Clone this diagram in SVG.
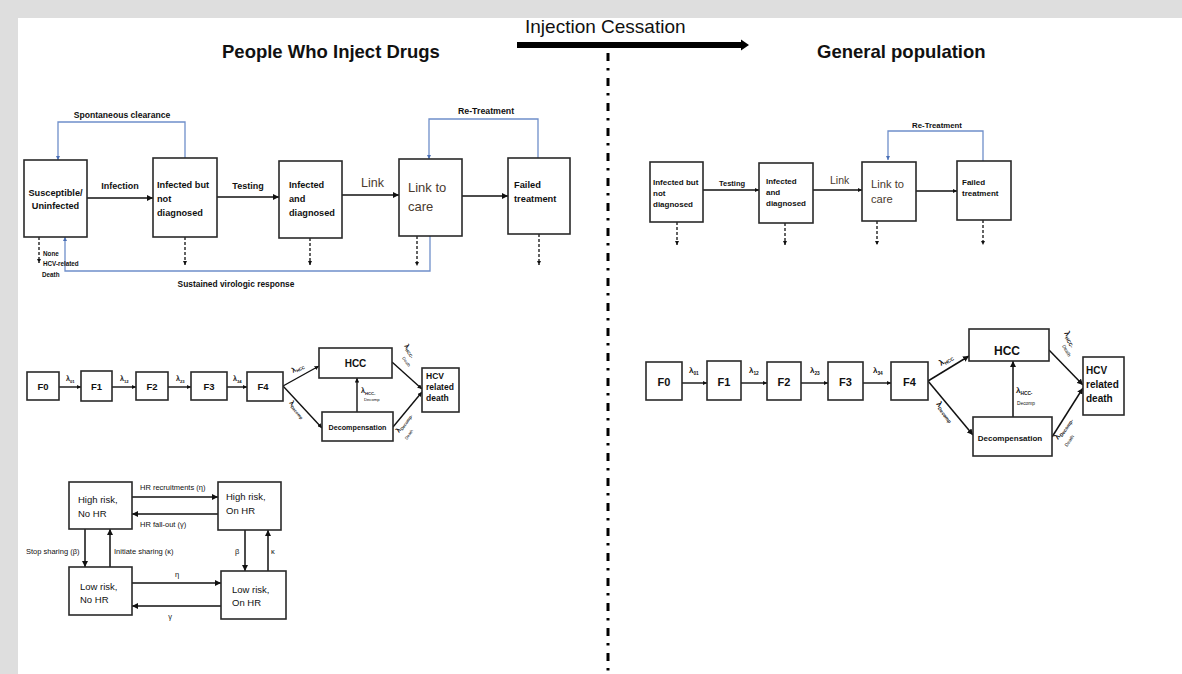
<svg xmlns="http://www.w3.org/2000/svg" width="1182" height="674" viewBox="0 0 1182 674">
<defs>
<marker id="ah" viewBox="0 0 10 10" refX="10" refY="5" markerWidth="6" markerHeight="6" orient="auto" markerUnits="userSpaceOnUse"><path d="M0,0 L10,5 L0,10 z" fill="#111"/></marker>
<marker id="ahs" viewBox="0 0 10 10" refX="10" refY="5" markerWidth="4.5" markerHeight="4.5" orient="auto" markerUnits="userSpaceOnUse"><path d="M0,0 L10,5 L0,10 z" fill="#111"/></marker>
<marker id="ahb" viewBox="0 0 10 10" refX="10" refY="5" markerWidth="4" markerHeight="4" orient="auto" markerUnits="userSpaceOnUse"><path d="M0,0 L10,5 L0,10 z" fill="#4a6fb5"/></marker>
<style>
text{font-family:"Liberation Sans",Arial,sans-serif;fill:#111}
.b{font-weight:bold}
.box{fill:#fff;stroke:#2a2a2a;stroke-width:1.6}
.ar{fill:none;stroke:#111;stroke-width:1.5;marker-end:url(#ah)}
.ars{fill:none;stroke:#111;stroke-width:1.4;marker-end:url(#ahs)}
.dash{fill:none;stroke:#222;stroke-width:1.4;stroke-dasharray:3 2;marker-end:url(#ahs)}
.blue{fill:none;stroke:#6f8fca;stroke-width:1.3;marker-end:url(#ahb)}
.brn{fill:#4a3a2e}
</style>
</defs>
<rect x="0" y="0" width="1182" height="674" fill="#dedede"/>
<rect x="18" y="18" width="1164" height="656" fill="#fff"/>

<g id="header">
<text class="b" x="222" y="58" font-size="18.5">People Who Inject Drugs</text>
<text class="b" x="817" y="58" font-size="18.5">General population</text>
<text x="525" y="33" font-size="19">Injection Cessation</text>
<polygon points="517,42 741,42 741,39.5 749,45 741,50.5 741,48 517,48" fill="#000"/>
<line x1="608" y1="53" x2="608" y2="674" stroke="#000" stroke-width="3" stroke-dasharray="8 7 2.5 7.5"/>
</g>

<g id="connectors">
<!-- top-left flow -->
<line class="ar" x1="87" y1="198" x2="153" y2="198"/>
<line class="ar" x1="217" y1="197" x2="279" y2="197"/>
<line class="ar" x1="342" y1="195" x2="399" y2="195"/>
<line class="ar" x1="462" y1="196" x2="508" y2="196"/>
<path class="blue" d="M185,158 V122 H58 V160"/>
<path class="blue" d="M538,158 V119 H429 V159"/>
<path class="blue" d="M430,236 V271 H65 V237"/>
<line class="dash" x1="39" y1="237" x2="39" y2="263"/>
<line class="dash" x1="185" y1="237" x2="185" y2="265"/>
<line class="dash" x1="310" y1="238" x2="310" y2="265"/>
<line class="dash" x1="417" y1="236" x2="417" y2="266"/>
<line class="dash" x1="539" y1="234" x2="539" y2="265"/>
<!-- top-right flow -->
<line class="ars" x1="703" y1="190" x2="759" y2="190"/>
<line class="ars" x1="813" y1="190" x2="862" y2="190"/>
<line class="ars" x1="916" y1="191" x2="957" y2="191"/>
<path class="blue" d="M983,161 V131 H888 V160"/>
<line class="dash" x1="677" y1="222" x2="677" y2="245"/>
<line class="dash" x1="785" y1="223" x2="785" y2="245"/>
<line class="dash" x1="877" y1="221" x2="877" y2="245"/>
<line class="dash" x1="983" y1="220" x2="983" y2="245"/>
<!-- left fibrosis -->
<line class="ars" x1="59" y1="387" x2="81" y2="387"/>
<line class="ars" x1="112" y1="387" x2="136" y2="387"/>
<line class="ars" x1="168" y1="387" x2="191" y2="387"/>
<line class="ars" x1="227" y1="387" x2="247" y2="387"/>
<line class="ars" x1="283" y1="386" x2="319" y2="366"/>
<line class="ars" x1="283" y1="386" x2="322" y2="428"/>
<line class="ars" x1="357" y1="412" x2="357" y2="378"/>
<line class="ars" x1="392" y1="362" x2="422" y2="389"/>
<line class="ars" x1="393" y1="427" x2="422" y2="392"/>
<!-- right fibrosis -->
<line class="ars" x1="682" y1="383" x2="707" y2="383"/>
<line class="ars" x1="741" y1="383" x2="767" y2="383"/>
<line class="ars" x1="801" y1="383" x2="828" y2="383"/>
<line class="ars" x1="863" y1="383" x2="891" y2="383"/>
<line class="ar" x1="928" y1="381" x2="969" y2="356"/>
<line class="ar" x1="928" y1="381" x2="973" y2="435"/>
<line class="ar" x1="1013" y1="417" x2="1013" y2="361"/>
<line class="ar" x1="1049" y1="350" x2="1083" y2="385"/>
<line class="ar" x1="1052" y1="437" x2="1083" y2="388"/>
<!-- HR diagram -->
<line class="ar" x1="132" y1="497" x2="218" y2="497"/>
<line class="ar" x1="218" y1="514" x2="132" y2="514"/>
<line class="ar" x1="85" y1="529" x2="85" y2="567"/>
<line class="ar" x1="110" y1="567" x2="110" y2="529"/>
<line class="ar" x1="245" y1="530" x2="245" y2="571"/>
<line class="ar" x1="268" y1="571" x2="268" y2="530"/>
<line class="ar" x1="132" y1="583" x2="221" y2="583"/>
<line class="ar" x1="221" y1="606" x2="132" y2="606"/>
</g>

<g id="edge-labels">
<text class="b" x="120" y="189" font-size="9" text-anchor="middle">Infection</text>
<text class="b" x="248" y="189" font-size="9" text-anchor="middle">Testing</text>
<text class="brn" x="361" y="187" font-size="12.5">Link</text>
<text class="b" x="122" y="118" font-size="8.6" text-anchor="middle">Spontaneous clearance</text>
<text class="b" x="486" y="114" font-size="8.8" text-anchor="middle">Re-Treatment</text>
<text class="b" x="236" y="287" font-size="8.4" text-anchor="middle">Sustained virologic response</text>
<text class="b" x="43" y="256" font-size="6.3">None</text>
<text class="b" x="43" y="266" font-size="6.3">HCV-related</text>
<text class="b" x="42" y="277" font-size="6.3">Death</text>
<text class="b" x="732" y="186" font-size="7.5" text-anchor="middle">Testing</text>
<text class="brn" x="830" y="184" font-size="10.5">Link</text>
<text class="b" x="937" y="128" font-size="7.8" text-anchor="middle">Re-Treatment</text>
<!-- left lambda -->
<text x="66" y="381" font-size="7" class="b">λ<tspan font-size="4.2" dy="1.5">01</tspan></text>
<text x="120" y="381" font-size="7" class="b">λ<tspan font-size="4.2" dy="1.5">12</tspan></text>
<text x="176" y="381" font-size="7" class="b">λ<tspan font-size="4.2" dy="1.5">23</tspan></text>
<text x="233" y="381" font-size="7" class="b">λ<tspan font-size="4.2" dy="1.5">34</tspan></text>
<text transform="translate(293,373) rotate(-28)" font-size="7" class="b">λ<tspan font-size="4.2" dy="1.5">HCC</tspan></text>
<text transform="translate(289,403) rotate(50)" font-size="7" class="b">λ<tspan font-size="4.2" dy="1.5">Decomp</tspan></text>
<text x="361" y="393" font-size="7" class="b">λ<tspan font-size="4.2" dy="1.5">HCC-</tspan></text>
<text x="364" y="401" font-size="4.2">Decomp</text>
<text transform="translate(404,346) rotate(55)" font-size="7" class="b">λ<tspan font-size="4.2" dy="1.5">HCC-</tspan></text>
<text transform="translate(402,358) rotate(55)" font-size="4.2">Death</text>
<text transform="translate(399,433) rotate(-55)" font-size="7" class="b">λ<tspan font-size="4.2" dy="1.5">Decomp-</tspan></text>
<text transform="translate(407,440) rotate(-55)" font-size="4.2">Death</text>
<!-- right lambda -->
<text x="689" y="373" font-size="8" class="b">λ<tspan font-size="4.8" dy="1.7">01</tspan></text>
<text x="749" y="373" font-size="8" class="b">λ<tspan font-size="4.8" dy="1.7">12</tspan></text>
<text x="810" y="373" font-size="8" class="b">λ<tspan font-size="4.8" dy="1.7">23</tspan></text>
<text x="873" y="373" font-size="8" class="b">λ<tspan font-size="4.8" dy="1.7">34</tspan></text>
<text transform="translate(941,366) rotate(-32)" font-size="8" class="b">λ<tspan font-size="4.8" dy="1.7">HCC</tspan></text>
<text transform="translate(936,404) rotate(52)" font-size="8" class="b">λ<tspan font-size="4.8" dy="1.7">Decomp</tspan></text>
<text x="1016" y="393" font-size="8" class="b">λ<tspan font-size="4.8" dy="1.7">HCC-</tspan></text>
<text x="1017" y="405" font-size="4.8">Decomp</text>
<text transform="translate(1064,333) rotate(60)" font-size="8" class="b">λ<tspan font-size="4.8" dy="1.7">HCC-</tspan></text>
<text transform="translate(1062,346) rotate(60)" font-size="4.8">Death</text>
<text transform="translate(1058,440) rotate(-55)" font-size="8" class="b">λ<tspan font-size="4.8" dy="1.7">Decomp-</tspan></text>
<text transform="translate(1067,447) rotate(-55)" font-size="4.8">Death</text>
<!-- HR labels -->
<text x="140" y="490" font-size="7.5">HR recruitments (η)</text>
<text x="140" y="527" font-size="7.5">HR fall-out (γ)</text>
<text x="26" y="554" font-size="7.5">Stop sharing (β)</text>
<text x="114" y="554" font-size="7.5">Initiate sharing (κ)</text>
<text x="235" y="554" font-size="7.5">β</text>
<text x="271" y="554" font-size="7.5">κ</text>
<text x="177" y="577" font-size="7.5" text-anchor="middle">η</text>
<text x="170" y="619" font-size="7.5" text-anchor="middle">γ</text>
</g>

<g id="pwid-susceptible"><rect class="box" x="24" y="160" width="63" height="77"/><text class="b" x="55.5" y="196" font-size="9.2" text-anchor="middle">Susceptible/</text><text class="b" x="55.5" y="209" font-size="9.2" text-anchor="middle">Uninfected</text></g>
<g id="pwid-infected-undiagnosed"><rect class="box" x="153" y="158" width="64" height="79"/><text class="b" font-size="9.2"><tspan x="157" y="188">Infected but</tspan><tspan x="157" y="202">not</tspan><tspan x="157" y="216">diagnosed</tspan></text></g>
<g id="pwid-infected-diagnosed"><rect class="box" x="279" y="161" width="63" height="77"/><text class="b" font-size="9.2"><tspan x="289" y="188">Infected</tspan><tspan x="289" y="202">and</tspan><tspan x="289" y="216">diagnosed</tspan></text></g>
<g id="pwid-link-to-care"><rect class="box" x="399" y="159" width="63" height="77"/><text class="brn" font-size="13"><tspan x="408" y="192">Link to</tspan><tspan x="408" y="211">care</tspan></text></g>
<g id="pwid-failed"><rect class="box" x="508" y="158" width="62" height="76"/><text class="b" font-size="9.3"><tspan x="514" y="188">Failed</tspan><tspan x="514" y="202">treatment</tspan></text></g>

<g id="gp-infected-undiagnosed"><rect class="box" x="650" y="162" width="53" height="60"/><text class="b" font-size="8"><tspan x="653" y="185">Infected but</tspan><tspan x="653" y="196">not</tspan><tspan x="653" y="207">diagnosed</tspan></text></g>
<g id="gp-infected-diagnosed"><rect class="box" x="759" y="163" width="54" height="60"/><text class="b" font-size="8"><tspan x="766" y="184">Infected</tspan><tspan x="766" y="195">and</tspan><tspan x="766" y="206">diagnosed</tspan></text></g>
<g id="gp-link-to-care"><rect class="box" x="862" y="162" width="54" height="59"/><text class="brn" font-size="11.2"><tspan x="871" y="188">Link to</tspan><tspan x="871" y="203">care</tspan></text></g>
<g id="gp-failed"><rect class="box" x="957" y="161" width="54" height="59"/><text class="b" font-size="8"><tspan x="962" y="185">Failed</tspan><tspan x="962" y="196">treatment</tspan></text></g>

<g id="pwid-F0"><rect class="box" x="27" y="372" width="32" height="28"/><text class="b" x="43" y="390" font-size="9.5" text-anchor="middle">F0</text></g>
<g id="pwid-F1"><rect class="box" x="81" y="371" width="31" height="30"/><text class="b" x="96.5" y="390" font-size="9.5" text-anchor="middle">F1</text></g>
<g id="pwid-F2"><rect class="box" x="136" y="372" width="32" height="28"/><text class="b" x="152" y="390" font-size="9.5" text-anchor="middle">F2</text></g>
<g id="pwid-F3"><rect class="box" x="191" y="372" width="36" height="28"/><text class="b" x="209" y="390" font-size="9.5" text-anchor="middle">F3</text></g>
<g id="pwid-F4"><rect class="box" x="247" y="372" width="36" height="29"/><text class="b" x="263" y="390" font-size="9.5" text-anchor="middle">F4</text></g>
<g id="pwid-HCC"><rect class="box" x="319" y="348" width="73" height="30"/><text class="b" x="355.5" y="367" font-size="10" text-anchor="middle">HCC</text></g>
<g id="pwid-decomp"><rect class="box" x="322" y="412" width="71" height="29"/><text class="b" x="357.5" y="430" font-size="7.2" text-anchor="middle">Decompensation</text></g>
<g id="pwid-death"><rect class="box" x="422" y="368" width="37" height="44"/><text class="b" font-size="8.5"><tspan x="426" y="379">HCV</tspan><tspan x="426" y="390">related</tspan><tspan x="426" y="401">death</tspan></text></g>

<g id="gp-F0"><rect class="box" x="646" y="362" width="36" height="38"/><text class="b" x="664" y="386" font-size="11" text-anchor="middle">F0</text></g>
<g id="gp-F1"><rect class="box" x="707" y="361" width="34" height="39"/><text class="b" x="724" y="386" font-size="11" text-anchor="middle">F1</text></g>
<g id="gp-F2"><rect class="box" x="767" y="362" width="34" height="38"/><text class="b" x="784" y="386" font-size="11" text-anchor="middle">F2</text></g>
<g id="gp-F3"><rect class="box" x="828" y="362" width="35" height="38"/><text class="b" x="845.5" y="386" font-size="11" text-anchor="middle">F3</text></g>
<g id="gp-F4"><rect class="box" x="891" y="362" width="37" height="38"/><text class="b" x="909.5" y="386" font-size="11" text-anchor="middle">F4</text></g>
<g id="gp-HCC"><rect class="box" x="969" y="329" width="80" height="32"/><text class="b" x="1007" y="355" font-size="12" text-anchor="middle">HCC</text></g>
<g id="gp-decomp"><rect class="box" x="973" y="417" width="79" height="39"/><text class="b" x="1010" y="441" font-size="8" text-anchor="middle">Decompensation</text></g>
<g id="gp-death"><rect class="box" x="1083" y="357" width="41" height="58"/><text class="b" font-size="10"><tspan x="1086" y="374">HCV</tspan><tspan x="1086" y="388">related</tspan><tspan x="1086" y="402">death</tspan></text></g>

<g id="hr-high-no"><rect class="box" x="69" y="482" width="63" height="47"/><text font-size="9.5"><tspan x="78" y="503">High risk,</tspan><tspan x="78" y="517">No HR</tspan></text></g>
<g id="hr-high-on"><rect class="box" x="218" y="482" width="63" height="48"/><text font-size="9.5"><tspan x="226" y="500">High risk,</tspan><tspan x="226" y="514">On HR</tspan></text></g>
<g id="hr-low-no"><rect class="box" x="69" y="567" width="63" height="48"/><text font-size="9.5"><tspan x="80" y="590">Low risk,</tspan><tspan x="80" y="603">No HR</tspan></text></g>
<g id="hr-low-on"><rect class="box" x="221" y="571" width="65" height="48"/><text font-size="9.5"><tspan x="232" y="593">Low risk,</tspan><tspan x="232" y="606">On HR</tspan></text></g>
</svg>
